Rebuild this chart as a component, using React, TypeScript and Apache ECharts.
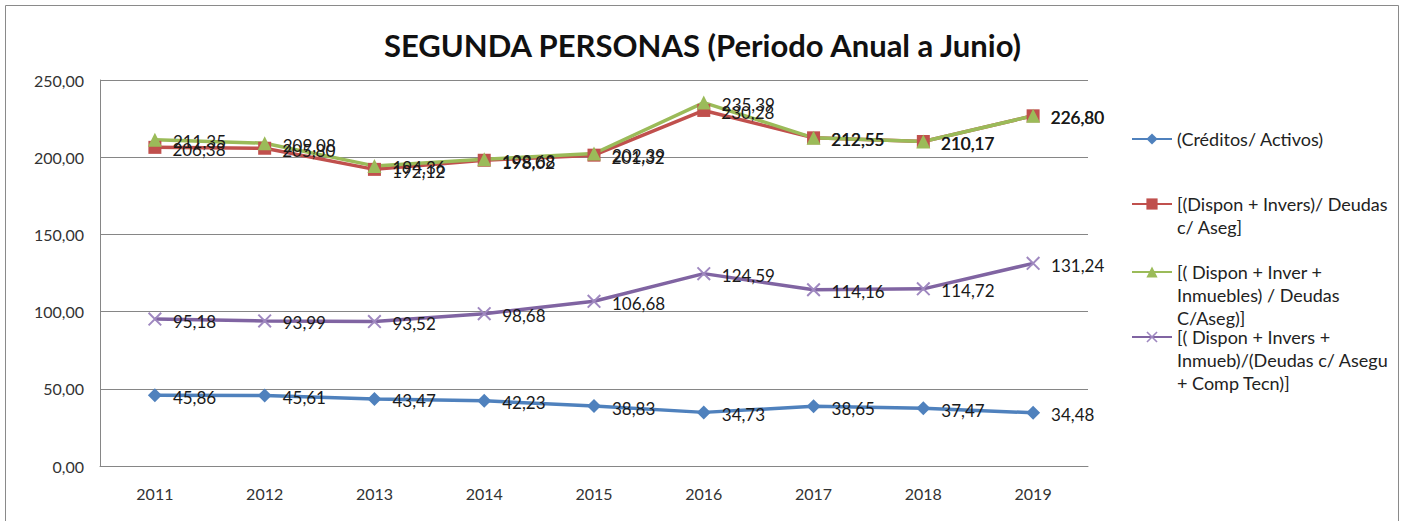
import React, { useEffect, useRef } from "react";
import * as echarts from "echarts";

const years = ["2011", "2012", "2013", "2014", "2015", "2016", "2017", "2018", "2019"];
const creditosActivos = [45.86, 45.61, 43.47, 42.23, 38.83, 34.73, 38.65, 37.47, 34.48];
const disponInvers = [206.38, 205.8, 192.12, 198.02, 201.32, 230.28, 212.55, 210.17, 226.8];
const disponInverInmuebles = [211.35, 209.08, 194.36, 198.68, 202.39, 235.39, 212.55, 210.17, 226.8];
const disponInversInmuebComp = [95.18, 93.99, 93.52, 98.68, 106.68, 124.59, 114.16, 114.72, 131.24];

const seriesNames = [
  "(Créditos/ Activos)",
  "[(Dispon + Invers)/ Deudas\nc/ Aseg]",
  "[( Dispon + Inver +\nInmuebles) / Deudas\nC/Aseg)]",
  "[( Dispon + Invers +\nInmueb)/(Deudas c/ Asegu\n+ Comp Tecn)]",
];

const FONT = "Lato, 'Open Sans', sans-serif";
const fmt = (v: number) => v.toFixed(2).replace(".", ",");

export default function App() {
  const ref = useRef<HTMLDivElement>(null);
  useEffect(() => {
    if (!ref.current) return;
    const chart = echarts.init(ref.current, undefined, { renderer: "svg" });
    const lineH = 23;
    const legendFor = (idx: number, lines: number, iconY: number) => {
      const H = (2 * lines - 1) * lineH;
      return {
        data: [seriesNames[idx]],
        orient: "vertical",
        left: 1131,
        top: iconY - H / 2,
        padding: 0,
        itemWidth: 40,
        itemHeight: 14,
        itemGap: 0,
        selectedMode: false,
        formatter: (name: string) => "\n".repeat(lines - 1) + name,
        textStyle: {
          fontFamily: FONT,
          fontSize: 18,
          color: "#222",
          lineHeight: lineH,
        },
      };
    };
    const label = {
      show: true,
      position: "right",
      distance: 11,
      offset: [0, 2],
      fontFamily: FONT,
      fontSize: 17,
      color: "#1a1a1a",
      formatter: (p: any) => fmt(p.value),
    };
    const mk = (name: string, data: number[], color: string, symbol: string, size: number, symColor?: string) => ({
      name,
      type: "line",
      data,
      symbol,
      symbolSize: size,
      lineStyle: { color, width: 3.5 },
      itemStyle: { color: symColor || color },
      label,
      z: 2,
    });
    chart.setOption({
      animation: false,
      title: {
        text: "SEGUNDA PERSONAS (Periodo Anual a Junio)",
        left: "center",
        top: 24,
        textStyle: { fontFamily: FONT, fontSize: 31, fontWeight: "bold", color: "#111" },
      },
      graphic: [
        {
          type: "rect",
          shape: { x: 5.5, y: 5.5, width: 1393, height: 530 },
          style: { fill: "none", stroke: "#8a8a8a", lineWidth: 1 },
          silent: true,
        },
      ],
      legend: [
        legendFor(0, 1, 139),
        legendFor(1, 2, 204),
        legendFor(2, 3, 272),
        legendFor(3, 3, 337),
      ],
      grid: { left: 100, right: 317, top: 80, bottom: 55 },
      xAxis: {
        type: "category",
        data: years,
        boundaryGap: true,
        axisLine: { show: true, lineStyle: { color: "#868686", width: 1 } },
        axisTick: { show: false },
        axisLabel: { fontFamily: FONT, fontSize: 16, color: "#333", margin: 19 },
      },
      yAxis: {
        type: "value",
        min: 0,
        max: 250,
        interval: 50,
        axisLine: { show: true, lineStyle: { color: "#868686", width: 1 } },
        axisTick: { show: false },
        splitLine: { show: true, lineStyle: { color: "#868686", width: 1 } },
        axisLabel: { fontFamily: FONT, fontSize: 16, color: "#333", margin: 16, formatter: (v: number) => fmt(v) },
      },
      series: [
        mk(seriesNames[0], creditosActivos, "#4F81BD", "diamond", 14),
        mk(seriesNames[1], disponInvers, "#C0504D", "rect", 13),
        mk(seriesNames[2], disponInverInmuebles, "#9BBB59", "triangle", 14),
        mk(
          seriesNames[3],
          disponInversInmuebComp,
          "#8064A2",
          "path://M0,1 L1,0 L10,9 L9,10 Z M9,0 L10,1 L1,10 L0,9 Z",
          14,
          "#9F88C0"
        ),
      ],
    });
    return () => chart.dispose();
  }, []);
  return (
    <div
      ref={ref}
      style={{ position: "absolute", left: 0, top: 0, width: 1405, height: 521, background: "#fff" }}
    />
  );
}
